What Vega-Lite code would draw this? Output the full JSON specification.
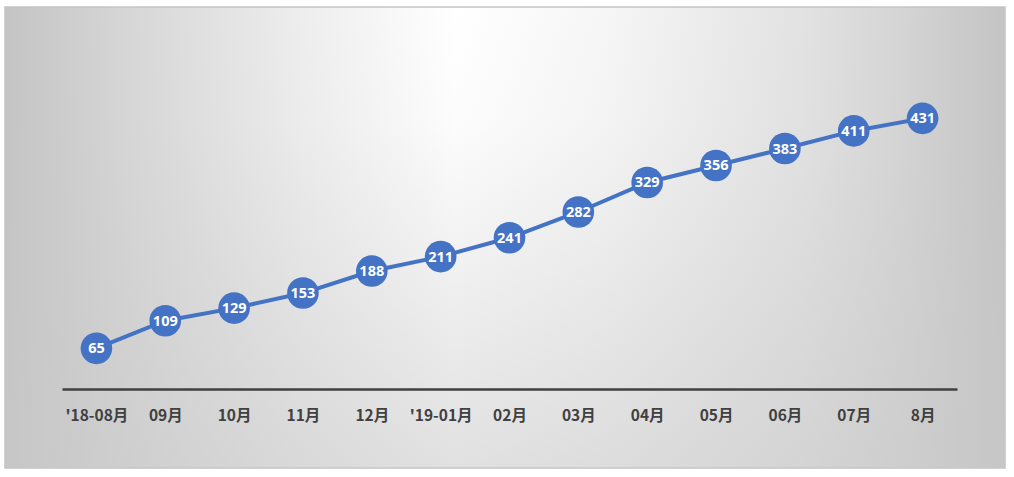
{
  "$schema": "https://vega.github.io/schema/vega-lite/v6.json",
  "width": 1000,
  "height": 461,
  "autosize": {"type": "none"},
  "padding": {"left": 5, "top": 7, "right": 9, "bottom": 9},
  "background": "#ffffff",
  "config": {"view": {"stroke": null}},
  "data": {"values": [
    {"month": "'18-08月", "count": 65},
    {"month": "09月", "count": 109},
    {"month": "10月", "count": 129},
    {"month": "11月", "count": 153},
    {"month": "12月", "count": 188},
    {"month": "'19-01月", "count": 211},
    {"month": "02月", "count": 241},
    {"month": "03月", "count": 282},
    {"month": "04月", "count": 329},
    {"month": "05月", "count": 356},
    {"month": "06月", "count": 383},
    {"month": "07月", "count": 411},
    {"month": "8月", "count": 431}
  ]},
  "encoding": {
    "x": {
      "field": "month", "type": "ordinal", "sort": null,
      "scale": {"type": "point", "padding": 0.5, "range": [57, 952]},
      "axis": {
        "title": null, "orient": "bottom", "offset": -79, "zindex": 1,
        "domainColor": "#404040", "domainWidth": 2.5,
        "ticks": false, "tickSize": 0, "grid": false,
        "labelAngle": 0, "labelPadding": 19,
        "labelFont": "Noto Sans CJK JP", "labelFontSize": 15.5, "labelFontWeight": "bold",
        "labelColor": "#404040"
      }
    },
    "y": {
      "field": "count", "type": "quantitative",
      "scale": {"domain": [-125.4, 608.2], "nice": false, "zero": false},
      "axis": null
    }
  },
  "layer": [
    {
      "data": {"values": [{"bg": 1}]},
      "mark": {
        "type": "rect",
        "stroke": "#c4c4c4", "strokeWidth": 1.5,
        "fill": {
          "gradient": "linear", "x1": 0, "y1": 0, "x2": 1, "y2": 0,
          "stops": [
            {"offset": 0, "color": "#c4c4c4"},
            {"offset": 0.12, "color": "#d6d6d6"},
            {"offset": 0.3, "color": "#eeeeee"},
            {"offset": 0.45, "color": "#ffffff"},
            {"offset": 0.6, "color": "#f6f6f6"},
            {"offset": 0.8, "color": "#e2e2e2"},
            {"offset": 0.9, "color": "#d4d4d4"},
            {"offset": 1, "color": "#c4c4c4"}
          ]
        }
      },
      "encoding": {"x": null, "y": null}
    },
    {
      "data": {"values": [{"bg": 1}]},
      "mark": {
        "type": "rect",
        "fill": {
          "gradient": "linear", "x1": 0, "y1": 0, "x2": 0, "y2": 1,
          "stops": [
            {"offset": 0, "color": "rgba(200,200,200,0)"},
            {"offset": 0.25, "color": "rgba(200,200,200,0.05)"},
            {"offset": 1, "color": "rgba(200,200,200,0.55)"}
          ]
        }
      },
      "encoding": {"x": null, "y": null}
    },
    {
      "mark": {"type": "line", "color": "#4472C4", "strokeWidth": 4}
    },
    {
      "mark": {"type": "circle", "color": "#4472C4", "opacity": 1, "size": 1000}
    },
    {
      "mark": {
        "type": "text", "color": "#ffffff", "font": "Noto Sans",
        "fontSize": 14.5, "fontWeight": "bold", "baseline": "middle", "align": "center", "dy": 1
      },
      "encoding": {"text": {"field": "count", "type": "quantitative"}}
    }
  ]
}
